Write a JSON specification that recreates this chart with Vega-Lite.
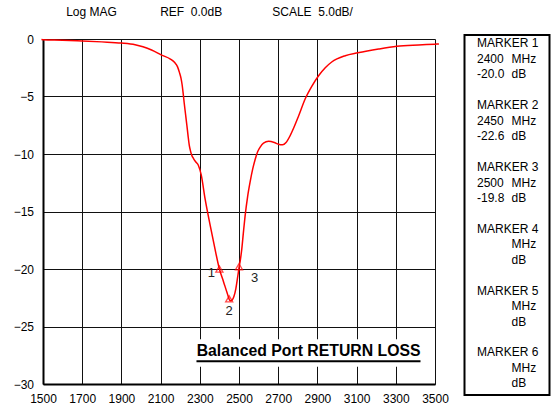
{
  "$schema": "https://vega.github.io/schema/vega-lite/v6.json",
  "background": "white",
  "padding": {"left": 13, "top": 6, "right": 0, "bottom": 0},
  "title": {
    "text": "Log MAG\u00a0\u00a0\u00a0\u00a0\u00a0\u00a0\u00a0\u00a0\u00a0\u00a0\u00a0\u00a0\u00a0REF\u00a0\u00a00.0dB\u00a0\u00a0\u00a0\u00a0\u00a0\u00a0\u00a0\u00a0\u00a0\u00a0\u00a0\u00a0\u00a0\u00a0\u00a0SCALE\u00a0\u00a05.0dB/",
    "anchor": "start",
    "dx": 53,
    "fontSize": 12,
    "fontWeight": "normal",
    "color": "#000",
    "offset": 14
  },
  "bounds": "flush",
  "spacing": 29.5,
  "config": {"font": "Liberation Sans", "view": {"stroke": null}},
  "datasets": {
    "trace": [
      {"freq": 1492, "db": -0.05}, {"freq": 1500, "db": -0.06}, {"freq": 1600, "db": -0.1}, {"freq": 1700, "db": -0.17},
      {"freq": 1800, "db": -0.25}, {"freq": 1900, "db": -0.35}, {"freq": 1970, "db": -0.5}, {"freq": 2010, "db": -0.68},
      {"freq": 2054, "db": -0.96}, {"freq": 2105, "db": -1.4}, {"freq": 2150, "db": -1.75}, {"freq": 2172, "db": -2.05},
      {"freq": 2186, "db": -2.4}, {"freq": 2196, "db": -2.9}, {"freq": 2204, "db": -3.4}, {"freq": 2210, "db": -4.0},
      {"freq": 2215, "db": -4.7}, {"freq": 2220, "db": -5.5}, {"freq": 2227, "db": -6.5}, {"freq": 2234, "db": -7.5},
      {"freq": 2240, "db": -8.4}, {"freq": 2246, "db": -9.2}, {"freq": 2252, "db": -9.7}, {"freq": 2259, "db": -10.1},
      {"freq": 2268, "db": -10.4}, {"freq": 2280, "db": -10.7}, {"freq": 2293, "db": -11.0}, {"freq": 2307, "db": -11.8},
      {"freq": 2327, "db": -13.9}, {"freq": 2353, "db": -16.2}, {"freq": 2378, "db": -18.3}, {"freq": 2400, "db": -20.0},
      {"freq": 2421, "db": -21.1}, {"freq": 2440, "db": -22.1}, {"freq": 2455, "db": -22.75}, {"freq": 2465, "db": -22.7},
      {"freq": 2474, "db": -22.4}, {"freq": 2484, "db": -21.7}, {"freq": 2494, "db": -20.6}, {"freq": 2500, "db": -19.9},
      {"freq": 2507, "db": -19.2}, {"freq": 2514, "db": -18.3}, {"freq": 2522, "db": -16.9}, {"freq": 2531, "db": -15.4},
      {"freq": 2544, "db": -13.7}, {"freq": 2557, "db": -12.4}, {"freq": 2570, "db": -11.3}, {"freq": 2582, "db": -10.5},
      {"freq": 2595, "db": -9.8}, {"freq": 2608, "db": -9.4}, {"freq": 2625, "db": -9.05}, {"freq": 2651, "db": -8.9},
      {"freq": 2680, "db": -9.0}, {"freq": 2701, "db": -9.15}, {"freq": 2722, "db": -9.2}, {"freq": 2740, "db": -9.0},
      {"freq": 2761, "db": -8.4}, {"freq": 2780, "db": -7.7}, {"freq": 2804, "db": -6.7}, {"freq": 2838, "db": -5.2},
      {"freq": 2872, "db": -4.1}, {"freq": 2906, "db": -3.2}, {"freq": 2940, "db": -2.5}, {"freq": 2973, "db": -2.0},
      {"freq": 3042, "db": -1.45}, {"freq": 3106, "db": -1.2}, {"freq": 3212, "db": -0.87}, {"freq": 3305, "db": -0.64},
      {"freq": 3416, "db": -0.52}, {"freq": 3500, "db": -0.45}, {"freq": 3520, "db": -0.43}
    ],
    "markers": [
      {"freq": 2400, "db": -20.0, "n": "1"},
      {"freq": 2450, "db": -22.6, "n": "2"},
      {"freq": 2500, "db": -19.8, "n": "3"}
    ],
    "panel": [
      {"row": 0, "label": "MARKER 1", "unit": ""}, {"row": 1, "label": "2400", "unit": "MHz"}, {"row": 2, "label": "-20.0", "unit": "dB"},
      {"row": 4, "label": "MARKER 2", "unit": ""}, {"row": 5, "label": "2450", "unit": "MHz"}, {"row": 6, "label": "-22.6", "unit": "dB"},
      {"row": 8, "label": "MARKER 3", "unit": ""}, {"row": 9, "label": "2500", "unit": "MHz"}, {"row": 10, "label": "-19.8", "unit": "dB"},
      {"row": 12, "label": "MARKER 4", "unit": ""}, {"row": 13, "label": "", "unit": "MHz"}, {"row": 14, "label": "", "unit": "dB"},
      {"row": 16, "label": "MARKER 5", "unit": ""}, {"row": 17, "label": "", "unit": "MHz"}, {"row": 18, "label": "", "unit": "dB"},
      {"row": 20, "label": "MARKER 6", "unit": ""}, {"row": 21, "label": "", "unit": "MHz"}, {"row": 22, "label": "", "unit": "dB"}
    ]
  },
  "hconcat": [
    {
      "width": 392,
      "height": 345,
      "encoding": {
        "x": {
          "field": "freq", "type": "quantitative",
          "scale": {"domain": [1500, 3500], "nice": false, "zero": false},
          "axis": {
            "values": [1500, 1700, 1900, 2100, 2300, 2500, 2700, 2900, 3100, 3300, 3500],
            "format": "d", "title": null, "grid": true, "gridColor": "#111", "gridWidth": 1,
            "ticks": false, "domainColor": "#000", "domainWidth": 2, "labelFontSize": 12,
            "labelColor": "#000", "labelPadding": 9, "labelFlush": false
          }
        },
        "y": {
          "field": "db", "type": "quantitative",
          "scale": {"domain": [-30, 0], "nice": false, "zero": false},
          "axis": {
            "values": [-30, -25, -20, -15, -10, -5, 0],
            "format": "d", "title": null, "grid": true, "gridColor": "#111", "gridWidth": 1,
            "ticks": false, "domainColor": "#000", "domainWidth": 2, "labelFontSize": 12,
            "labelColor": "#000", "labelPadding": 9.5
          }
        }
      },
      "layer": [
        {
          "data": {"values": [{"freq": 2240, "freq2": 3496, "db": -26.1, "db2": -28.5}]},
          "mark": {"type": "rect", "color": "white"},
          "encoding": {"x2": {"field": "freq2"}, "y2": {"field": "db2"}}
        },
        {
          "data": {"name": "trace"},
          "mark": {"type": "line", "color": "#ff0000", "strokeWidth": 1.5, "interpolate": "monotone"}
        },
        {
          "data": {"name": "markers"},
          "mark": {"type": "point", "shape": "triangle-up", "filled": false, "color": "#ff0000", "size": 50, "strokeWidth": 1.3}
        },
        {
          "data": {"name": "markers"},
          "transform": [{"filter": "datum.n == '1'"}],
          "mark": {"type": "text", "fontSize": 13, "color": "#222", "dx": -8, "dy": 4, "baseline": "middle"},
          "encoding": {"text": {"field": "n"}}
        },
        {
          "data": {"name": "markers"},
          "transform": [{"filter": "datum.n == '2'"}],
          "mark": {"type": "text", "fontSize": 13, "color": "#222", "dx": 0, "dy": 12, "baseline": "middle"},
          "encoding": {"text": {"field": "n"}}
        },
        {
          "data": {"name": "markers"},
          "transform": [{"filter": "datum.n == '3'"}],
          "mark": {"type": "text", "fontSize": 13, "color": "#222", "dx": 15.5, "dy": 11.5, "baseline": "middle"},
          "encoding": {"text": {"field": "n"}}
        },
        {
          "data": {"values": [{"freq": 2855, "db": -27.13, "label": "Balanced Port RETURN LOSS"}]},
          "mark": {"type": "text", "fontSize": 15.8, "fontWeight": "bold", "color": "#000", "baseline": "middle", "align": "center"},
          "encoding": {"text": {"field": "label"}}
        },
        {
          "data": {"values": [{"freq": 2283, "freq2": 3426, "db": -28.03}]},
          "mark": {"type": "rule", "color": "#000", "strokeWidth": 2},
          "encoding": {"x2": {"field": "freq2"}}
        }
      ]
    },
    {
      "width": 85,
      "height": 345,
      "data": {"name": "panel"},
      "encoding": {
        "x": {"datum": 0, "type": "quantitative", "scale": {"domain": [0, 1]}, "axis": null},
        "y": {"field": "row", "type": "quantitative", "scale": {"domain": [-0.291, 22.04], "reverse": true, "nice": false, "zero": false}, "axis": null}
      },
      "layer": [
        {
          "data": {"values": [{"top": -0.55, "bottom": 22.75}]},
          "mark": {"type": "rect", "fill": null, "filled": false, "stroke": "#000", "strokeWidth": 2},
          "encoding": {
            "x": {"datum": 0, "type": "quantitative"},
            "x2": {"datum": 1},
            "y": {"field": "top", "type": "quantitative"},
            "y2": {"field": "bottom"}
          }
        },
        {
          "transform": [{"filter": "datum.label != ''"}],
          "mark": {"type": "text", "align": "left", "baseline": "middle", "fontSize": 12, "dx": 12.5, "color": "#000"},
          "encoding": {"text": {"field": "label"}}
        },
        {
          "transform": [{"filter": "datum.unit != ''"}],
          "mark": {"type": "text", "align": "left", "baseline": "middle", "fontSize": 12, "dx": 47, "color": "#000"},
          "encoding": {"text": {"field": "unit"}}
        }
      ]
    }
  ]
}
